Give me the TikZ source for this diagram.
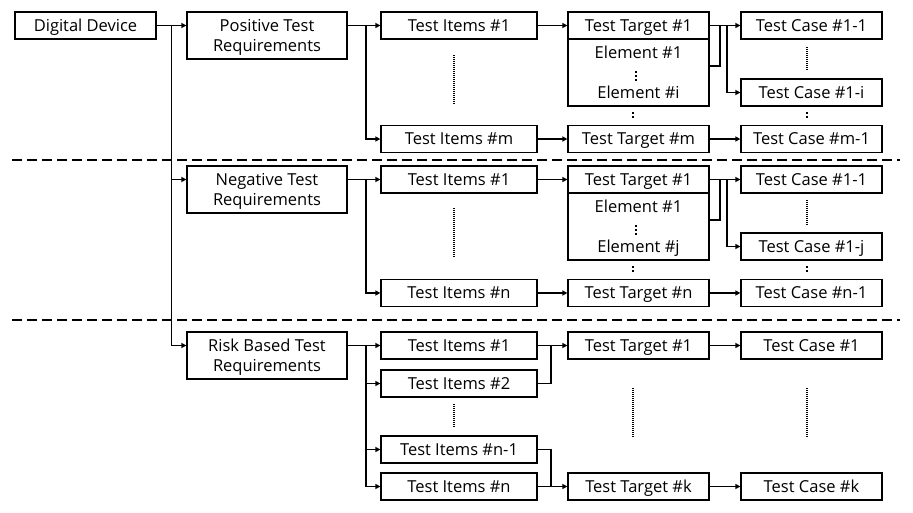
\documentclass[tikz,border=0pt]{standalone}
\usepackage{fontspec}
\setmainfont{Open Sans}
\usetikzlibrary{arrows.meta,calc}
\begin{document}
\begin{tikzpicture}[x=1pt,y=-1pt,
  box/.style={draw, line width=1.2pt, fill=white, inner sep=0pt, minimum height=27pt, text height=11.8pt, text depth=0pt, font=\fontsize{16.5}{20}\selectfont},
  reqbox/.style={box, minimum width=160pt, minimum height=47pt, align=center, text height=31.8pt, text depth=0pt},
  itbox/.style={box, minimum width=156pt},
  tgbox/.style={box, minimum width=141pt},
  txt/.style={inner sep=0pt, text height=11.8pt, text depth=0pt, font=\fontsize{16.5}{20}\selectfont},
  conn/.style={line width=1.9pt},
  arr/.style={conn, -{Triangle[length=5pt,width=5pt]}},
  sepline/.style={line width=2.8pt, dash pattern=on 9.5pt off 5.5pt},
  vdots/.style={line width=1.3pt, dash pattern=on 1pt off 1pt},
  sdots/.style={line width=1.6pt, dash pattern=on 1.6pt off 2.4pt}]
\useasboundingbox (0,0) rectangle (913,513);

% separators
\draw[sepline] (12,160) -- (900,160);
\draw[sepline] (12,320) -- (900,320);

% root
\node[tgbox] (dd) at (85.5,25.5) {Digital Device};
\node[reqbox] (req1) at (267,35.5) {Positive Test\\Requirements};
\node[reqbox] (req2) at (267,189.5) {Negative Test\\Requirements};
\node[reqbox] (req3) at (267,355.5) {Risk Based Test\\Requirements};

% section 1
\node[itbox] (it11) at (459,25.5) {Test Items \#1};
\node[itbox] (it1m) at (459,139) {Test Items \#m};
\node[tgbox] (tg11) at (638.5,25.5) {Test Target \#1};
\node[tgbox, minimum height=67pt] (el1) at (638.5,72.5) {};
\node[txt] (e11) at (638.5,52.5) {Element \#1};
\node[txt] (e1i) at (638.5,92.5) {Element \#i};
\node[tgbox] (tg1m) at (638.5,139) {Test Target \#m};
\node[tgbox] (tc11) at (811.5,25.5) {Test Case \#1-1};
\node[tgbox] (tc1i) at (811.5,92.5) {Test Case \#1-i};
\node[tgbox] (tc1m) at (811.5,139) {Test Case \#m-1};

% section 2
\node[itbox] (it21) at (459,179.5) {Test Items \#1};
\node[itbox] (it2n) at (459,293) {Test Items \#n};
\node[tgbox] (tg21) at (638.5,179.5) {Test Target \#1};
\node[tgbox, minimum height=67pt] (el2) at (638.5,226.5) {};
\node[txt] (e21) at (638.5,206.5) {Element \#1};
\node[txt] (e2j) at (638.5,246.5) {Element \#j};
\node[tgbox] (tg2n) at (638.5,293) {Test Target \#n};
\node[tgbox] (tc21) at (811.5,179.5) {Test Case \#1-1};
\node[tgbox] (tc2j) at (811.5,246.5) {Test Case \#1-j};
\node[tgbox] (tc2n) at (811.5,293) {Test Case \#n-1};

% section 3
\node[itbox] (it31) at (459,345.5) {Test Items \#1};
\node[itbox] (it32) at (459,383.5) {Test Items \#2};
\node[itbox] (it3n1) at (459,449.5) {Test Items \#n-1};
\node[itbox] (it3n) at (459,486.5) {Test Items \#n};
\node[tgbox] (tg31) at (638.5,345.5) {Test Target \#1};
\node[tgbox] (tg3k) at (638.5,486.5) {Test Target \#k};
\node[tgbox] (tc31) at (811.5,345.5) {Test Case \#1};
\node[tgbox] (tc3k) at (811.5,486.5) {Test Case \#k};

% fork coordinates
\coordinate (tr) at (171.5,25.5);
\coordinate (f1) at (366,25.5);
\coordinate (f2) at (366,179.5);
\coordinate (f3) at (366,345.5);
\coordinate (k1a) at (720,25.5);
\coordinate (k1b) at (727,25.5);
\coordinate (k2a) at (720,179.5);
\coordinate (k2b) at (727,179.5);
\coordinate (j1) at (551,345.5);
\coordinate (j2) at (551,486.5);

% root connectors
\draw[arr] (dd.east) -- (req1.west |- dd.east);
\draw[arr] (tr) |- (req2.west |- it21.west);
\draw[arr] (tr) |- (req3.west |- it31.west);

% section 1 connectors
\draw[arr] (req1.east |- it11.west) -- (it11.west);
\draw[arr] (f1) |- (it1m.west);
\draw[arr] (it11.east) -- (tg11.west);
\draw[arr] (it1m.east) -- (tg1m.west);
\draw[arr] (tg1m.east) -- (tc1m.west);
\draw[arr] (tg11.east) -- (tc11.west);
\draw[conn] (k1a) |- ([yshift=6.5pt]el1.east);
\draw[arr] (k1b) |- (tc1i.west);

% section 2 connectors
\draw[arr] (req2.east |- it21.west) -- (it21.west);
\draw[arr] (f2) |- (it2n.west);
\draw[arr] (it21.east) -- (tg21.west);
\draw[arr] (it2n.east) -- (tg2n.west);
\draw[arr] (tg2n.east) -- (tc2n.west);
\draw[arr] (tg21.east) -- (tc21.west);
\draw[conn] (k2a) |- ([yshift=6.5pt]el2.east);
\draw[arr] (k2b) |- (tc2j.west);

% section 3 connectors
\draw[arr] (req3.east |- it31.west) -- (it31.west);
\draw[arr] (f3) |- (it32.west);
\draw[arr] (f3) |- (it3n1.west);
\draw[arr] (f3) |- (it3n.west);
\draw[arr] (it31.east) -- (tg31.west);
\draw[conn] (it32.east) -| (j1);
\draw[arr] (it3n.east) -- (tg3k.west);
\draw[conn] (it3n1.east) -| (j2);
\draw[arr] (tg31.east) -- (tc31.west);
\draw[arr] (tg3k.east) -- (tc3k.west);

% vertical dotted ellipses
\draw[vdots] (454,55) -- (454,104);
\draw[vdots] (807,47) -- (807,70);
\draw[vdots] (454,208) -- (454,258);
\draw[vdots] (807,200) -- (807,225);
\draw[vdots] (454,404) -- (454,428);
\draw[vdots] (633,388) -- (633,437);
\draw[vdots] (807,388) -- (807,437);

% short dots
\draw[sdots] (636,71) -- (636,82);
\draw[sdots] (636,225) -- (636,236);
\draw[sdots] (633,112) -- (633,118);
\draw[sdots] (807,112) -- (807,118);
\draw[sdots] (633,266) -- (633,272);
\draw[sdots] (807,266) -- (807,272);
\end{tikzpicture}
\end{document}
